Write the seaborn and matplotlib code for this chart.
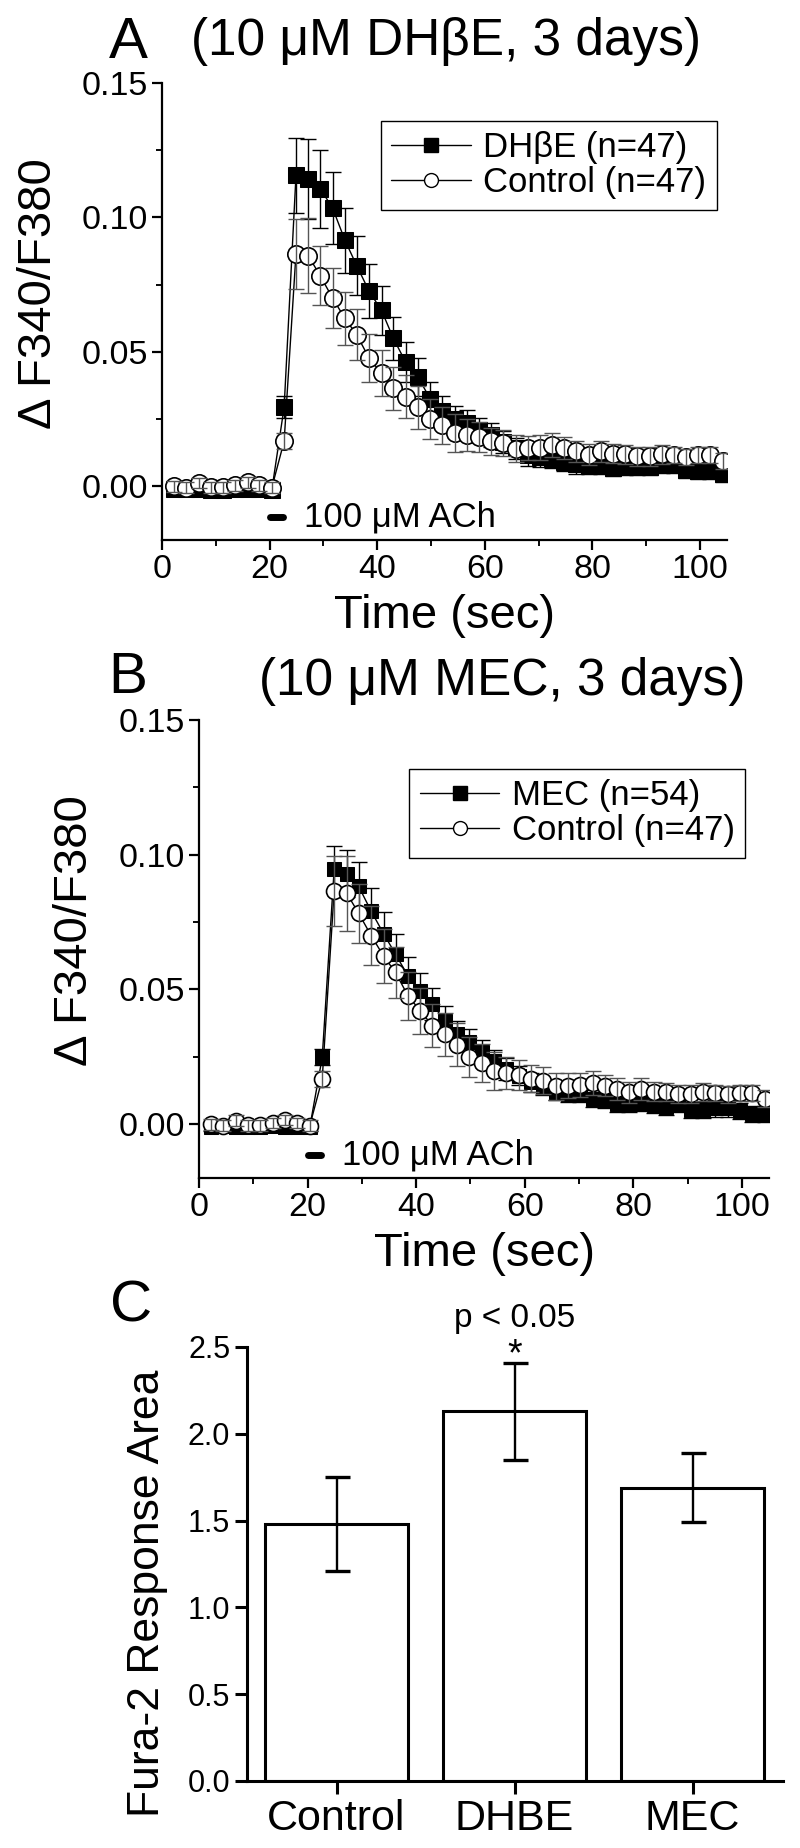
import matplotlib
matplotlib.use("Agg")
import matplotlib.pyplot as plt
from matplotlib.lines import Line2D
from matplotlib.ticker import MultipleLocator, FormatStrFormatter
import pandas as pd
import seaborn as sns

# ---------------- data ----------------
time_s = [2.3, 4.5, 6.8, 9.1, 11.3, 13.6, 15.9, 18.1, 20.4, 22.7,
          24.9, 27.2, 29.4, 31.7, 34.0, 36.2, 38.5, 40.8, 43.0, 45.3,
          47.6, 49.8, 52.1, 54.4, 56.6, 58.9, 61.2, 63.4, 65.7, 68.0,
          70.2, 72.5, 74.7, 77.0, 79.3, 81.5, 83.8, 86.1, 88.3, 90.6,
          92.9, 95.1, 97.4, 99.7, 101.9, 104.2]

control = [0.0000, -0.0006, 0.0012, -0.0004, -0.0004, 0.0004, 0.0015, 0.0004, -0.0006, 0.0168,
           0.0865, 0.0857, 0.0783, 0.0700, 0.0624, 0.0563, 0.0476, 0.0420, 0.0365, 0.0333,
           0.0294, 0.0249, 0.0226, 0.0198, 0.0190, 0.0183, 0.0168, 0.0161, 0.0140, 0.0143,
           0.0144, 0.0154, 0.0143, 0.0130, 0.0118, 0.0130, 0.0121, 0.0119, 0.0112, 0.0112,
           0.0119, 0.0115, 0.0110, 0.0117, 0.0116, 0.0095]
control_sem = [0.0020, 0.0020, 0.0020, 0.0020, 0.0020, 0.0020, 0.0020, 0.0020, 0.0020, 0.0030,
               0.0130, 0.0140, 0.0110, 0.0110, 0.0100, 0.0095, 0.0090, 0.0085, 0.0080, 0.0080,
               0.0080, 0.0075, 0.0070, 0.0070, 0.0060, 0.0055, 0.0050, 0.0050, 0.0050, 0.0045,
               0.0045, 0.0045, 0.0040, 0.0040, 0.0040, 0.0040, 0.0035, 0.0035, 0.0035, 0.0035,
               0.0035, 0.0030, 0.0030, 0.0030, 0.0030, 0.0030]

dhbe = [-0.0010, -0.0012, -0.0010, -0.0015, -0.0015, -0.0010, -0.0010, -0.0012, -0.0015, 0.0295,
        0.1156, 0.1143, 0.1107, 0.1035, 0.0915, 0.0820, 0.0725, 0.0654, 0.0550, 0.0461,
        0.0406, 0.0326, 0.0280, 0.0250, 0.0234, 0.0210, 0.0190, 0.0165, 0.0141, 0.0117,
        0.0107, 0.0101, 0.0090, 0.0082, 0.0077, 0.0077, 0.0068, 0.0070, 0.0072, 0.0072,
        0.0078, 0.0078, 0.0062, 0.0058, 0.0056, 0.0045]
dhbe_sem = [0.0015, 0.0015, 0.0015, 0.0015, 0.0015, 0.0015, 0.0015, 0.0015, 0.0015, 0.0040,
            0.0140, 0.0150, 0.0145, 0.0135, 0.0120, 0.0110, 0.0100, 0.0090, 0.0080, 0.0075,
            0.0070, 0.0060, 0.0055, 0.0050, 0.0050, 0.0045, 0.0045, 0.0040, 0.0040, 0.0040,
            0.0035, 0.0035, 0.0035, 0.0035, 0.0030, 0.0030, 0.0030, 0.0030, 0.0030, 0.0030,
            0.0030, 0.0030, 0.0030, 0.0030, 0.0030, 0.0030]

mec = [-0.0010, -0.0008, -0.0010, -0.0010, -0.0010, -0.0008, -0.0010, -0.0010, -0.0012, 0.0248,
       0.0946, 0.0930, 0.0883, 0.0791, 0.0707, 0.0631, 0.0550, 0.0495, 0.0445, 0.0383,
       0.0334, 0.0303, 0.0267, 0.0236, 0.0205, 0.0180, 0.0156, 0.0138, 0.0119, 0.0113,
       0.0113, 0.0095, 0.0088, 0.0076, 0.0076, 0.0080, 0.0070, 0.0064, 0.0076, 0.0052,
       0.0052, 0.0058, 0.0058, 0.0048, 0.0039, 0.0039]
mec_sem = [0.0015, 0.0015, 0.0015, 0.0015, 0.0015, 0.0015, 0.0015, 0.0015, 0.0015, 0.0030,
           0.0085, 0.0086, 0.0090, 0.0086, 0.0080, 0.0075, 0.0070, 0.0065, 0.0060, 0.0055,
           0.0050, 0.0050, 0.0045, 0.0040, 0.0040, 0.0035, 0.0035, 0.0030, 0.0030, 0.0030,
           0.0030, 0.0030, 0.0030, 0.0030, 0.0030, 0.0030, 0.0030, 0.0030, 0.0030, 0.0030,
           0.0030, 0.0030, 0.0030, 0.0030, 0.0030, 0.0030]

bar_labels = ["Control", "DHBE", "MEC"]
bar_means = [1.48, 2.13, 1.69]
bar_sem = [0.27, 0.28, 0.20]

legend_A = ["DH\u03b2E (n=47)", "Control (n=47)"]
legend_B = ["MEC (n=54)", "Control (n=47)"]
title_A = "(10 \u03bcM DH\u03b2E, 3 days)"
title_B = "(10 \u03bcM MEC, 3 days)"
ach_label = "100 \u03bcM ACh"
ach_window = [20.0, 22.5]
ach_level = -0.0115

# ---------------- style ----------------
sns.set_theme(style="ticks")
plt.rcParams["font.family"] = ["Liberation Sans", "DejaVu Sans"]
plt.rcParams["text.color"] = "black"
plt.rcParams["axes.labelcolor"] = "black"
plt.rcParams["xtick.color"] = "black"
plt.rcParams["ytick.color"] = "black"

W, H = 800, 1848
fig = plt.figure(figsize=(W / 100, H / 100), dpi=100)


def px_axes(left, right, top, bottom):
    return fig.add_axes([left / W, 1 - bottom / H, (right - left) / W, (bottom - top) / H])


def style_axes(ax, tick_fs, spine_lw=1.6, major_len=7, minor_len=4):
    sns.despine(ax=ax)
    for s in ("left", "bottom"):
        ax.spines[s].set_linewidth(spine_lw)
        ax.spines[s].set_color("black")
    ax.tick_params(which="major", direction="out", length=major_len, width=spine_lw,
                   colors="black", labelsize=tick_fs, pad=3)
    ax.tick_params(which="minor", direction="out", length=minor_len, width=spine_lw * 0.85,
                   colors="black")


def trace_panel(ax, treat, treat_sem, ms_sq, ms_ci):
    df_t = pd.DataFrame({"t": time_s, "v": treat})
    df_c = pd.DataFrame({"t": time_s, "v": control})
    sns.lineplot(data=df_t, x="t", y="v", ax=ax, estimator=None, color="black",
                 linewidth=1.0, marker="s", markersize=ms_sq, markerfacecolor="black",
                 markeredgecolor="black", zorder=3, legend=False)
    ax.errorbar(time_s, treat, yerr=treat_sem, fmt="none", ecolor="black",
                elinewidth=1.0, capsize=6, capthick=1.0, zorder=3.5)
    sns.lineplot(data=df_c, x="t", y="v", ax=ax, estimator=None, color="black",
                 linewidth=1.0, marker="o", markersize=ms_ci, markerfacecolor="white",
                 markeredgecolor="black", markeredgewidth=1.2, zorder=4, legend=False)
    ax.errorbar(time_s, control, yerr=control_sem, fmt="none", ecolor="#555555",
                elinewidth=1.0, capsize=6, capthick=1.0, zorder=5)
    ax.set_xlim(0, 105)
    ax.set_ylim(-0.02, 0.15)
    ax.xaxis.set_major_locator(MultipleLocator(20))
    ax.xaxis.set_minor_locator(MultipleLocator(10))
    ax.yaxis.set_major_locator(MultipleLocator(0.05))
    ax.yaxis.set_minor_locator(MultipleLocator(0.025))
    ax.yaxis.set_major_formatter(FormatStrFormatter("%.2f"))
    ax.set_xlabel("Time (sec)", fontsize=34)
    ax.set_ylabel("\u0394 F340/F380", fontsize=34)
    ax.yaxis.label.set_verticalalignment("center")
    ax.yaxis.set_label_coords(-0.218, 0.54)
    ax.xaxis.set_label_coords(0.5, -0.118)
    # ACh application bar
    ax.plot(ach_window, [ach_level, ach_level], color="black", linewidth=5,
            solid_capstyle="round", zorder=6)
    ax.text(26.3, ach_level, ach_label, fontsize=25, va="center", ha="left")
    handles = [
        Line2D([], [], color="black", lw=1.0, marker="s", markersize=9.5,
               markerfacecolor="black", markeredgecolor="black"),
        Line2D([], [], color="black", lw=1.0, marker="o", markersize=10,
               markerfacecolor="white", markeredgecolor="black"),
    ]
    return handles


def add_legend(ax, handles, labels, anchor):
    leg = ax.legend(handles, labels, loc="upper right", bbox_to_anchor=anchor,
                    fontsize=25, frameon=True, fancybox=False, framealpha=1,
                    edgecolor="black", handlelength=2.3, handletextpad=0.35,
                    borderpad=0.3, labelspacing=0.05, borderaxespad=0)
    leg.get_frame().set_linewidth(1.0)
    return leg


# ---------- Panel A ----------
axA = px_axes(162, 727, 83, 540)
hA = trace_panel(axA, dhbe, dhbe_sem, 11, 12.5)
add_legend(axA, hA, legend_A, (0.982, 0.917))
style_axes(axA, 24.5)

# ---------- Panel B ----------
axB = px_axes(199, 769, 720, 1178)
hB = trace_panel(axB, mec, mec_sem, 10.5, 11.5)
add_legend(axB, hB, legend_B, (0.958, 0.893))
style_axes(axB, 24.5)

# ---------- Panel C ----------
axC = px_axes(247, 783, 1347, 1781)
dfC = pd.DataFrame({"group": bar_labels, "area": bar_means})
sns.barplot(data=dfC, x="group", y="area", ax=axC, color="white", edgecolor="black",
            linewidth=2.2, width=0.8, errorbar=None, saturation=1)
axC.errorbar(range(len(bar_labels)), bar_means, yerr=bar_sem, fmt="none",
             ecolor="black", elinewidth=1.7, capsize=9, capthick=2.4, zorder=5)
axC.set_xlim(-0.503, 2.508)
axC.set_ylim(0, 2.5)
axC.yaxis.set_major_locator(MultipleLocator(0.5))
axC.yaxis.set_major_formatter(FormatStrFormatter("%.1f"))
axC.set_xlabel("")
axC.set_ylabel("Fura-2 Response Area", fontsize=32)
axC.yaxis.label.set_verticalalignment("center")
axC.yaxis.set_label_coords(-0.185, 0.433)
style_axes(axC, 22, spine_lw=2.2, major_len=9)
axC.tick_params(axis="x", labelsize=31, pad=4)
axC.text(1, 2.667, "p < 0.05", ha="center", va="center", fontsize=24)
axC.text(1, 2.45, "*", ha="center", va="center", fontsize=27)

# ---------- panel letters and titles ----------
fig.text(128 / W, 1 - 43 / H, "A", fontsize=42, ha="center", va="center")
fig.text(446 / W, 1 - 42 / H, title_A, fontsize=37, ha="center", va="center")
fig.text(128 / W, 1 - 678 / H, "B", fontsize=42, ha="center", va="center")
fig.text(502 / W, 1 - 682 / H, title_B, fontsize=37, ha="center", va="center")
fig.text(131 / W, 1 - 1306 / H, "C", fontsize=42, ha="center", va="center")

fig.savefig("out.png", dpi=100, facecolor="white")
